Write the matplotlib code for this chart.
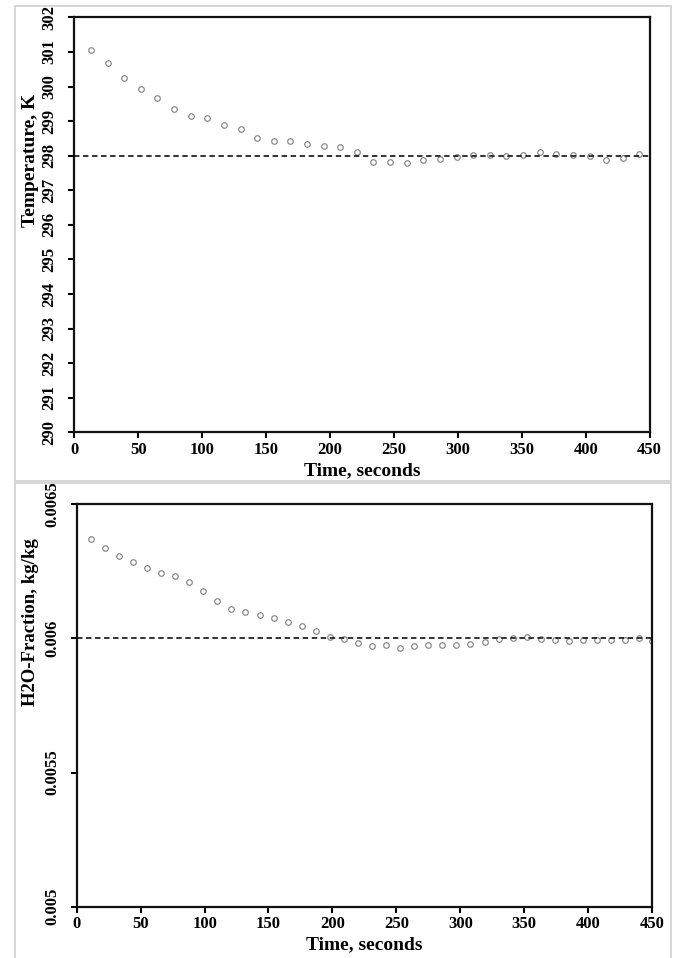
import matplotlib
matplotlib.use('Agg')
import matplotlib.pyplot as plt
from matplotlib.patches import Rectangle

plt.rcParams['font.family'] = ['Liberation Serif', 'DejaVu Serif']
plt.rcParams['font.weight'] = 'bold'

# 温度数据（上图）
time_t = [13, 26, 39, 52, 65, 78, 91, 104, 117, 130, 143, 156, 169, 182, 195, 208, 221,
          234, 247, 260, 273, 286, 299, 312, 325, 338, 351, 364, 377, 390, 403, 416, 429, 442]
temperature = [301.05, 300.68, 300.24, 299.92, 299.68, 299.35, 299.14, 299.10, 298.90, 298.78,
               298.51, 298.43, 298.43, 298.35, 298.29, 298.24, 298.10, 297.82, 297.83, 297.78,
               297.87, 297.91, 297.97, 298.01, 298.01, 297.99, 298.03, 298.10, 298.05, 298.02,
               297.99, 297.87, 297.93, 298.04]
temp_ref = 298.0
temp_ticks = [290, 291, 292, 293, 294, 295, 296, 297, 298, 299, 300, 301, 302]

# H2O 质量分数（下图）
time_h = [11, 22, 33, 44, 55, 66, 77, 88, 99, 110, 121, 132, 143, 154, 165, 176, 187, 198, 209,
          220, 231, 242, 253, 264, 275, 286, 297, 308, 319, 330, 341, 352, 363, 374, 385, 396,
          407, 418, 429, 440, 450]
h2o = [0.006369, 0.006337, 0.006307, 0.006284, 0.006264, 0.006245, 0.006231, 0.006209,
       0.006176, 0.006138, 0.006110, 0.006097, 0.006086, 0.006077, 0.006062, 0.006046,
       0.006028, 0.006006, 0.005997, 0.005982, 0.005971, 0.005977, 0.005966, 0.005972,
       0.005977, 0.005977, 0.005977, 0.005979, 0.005985, 0.005997, 0.006003, 0.006004,
       0.005997, 0.005994, 0.005991, 0.005994, 0.005993, 0.005993, 0.005995, 0.006000,
       0.005990]
h2o_ref = 0.006
h2o_ticks = [0.005, 0.0055, 0.006, 0.0065]
h2o_ticklabels = ['0.005', '0.0055', '0.006', '0.0065']

x_ticks = [0, 50, 100, 150, 200, 250, 300, 350, 400, 450]

fig = plt.figure(figsize=(6.79, 9.58), dpi=100)

# 两个面板的灰色边框
fig.patches.append(Rectangle((0.022, 0.498), 0.966, 0.4957, transform=fig.transFigure,
                             fill=False, edgecolor='#cfcfcf', linewidth=1.2))
fig.patches.append(Rectangle((0.022, -0.01), 0.966, 0.5058, transform=fig.transFigure,
                             fill=False, edgecolor='#cfcfcf', linewidth=1.2))

ax1 = fig.add_axes([0.1094, 0.5487, 0.8474, 0.4332])
ax2 = fig.add_axes([0.1130, 0.05355, 0.8473, 0.4200])


def style(ax):
    for s in ax.spines.values():
        s.set_linewidth(1.6)
        s.set_color('#111111')
    ax.tick_params(axis='both', direction='out', length=4, width=1.5, labelsize=12, pad=3)
    ax.tick_params(axis='y', labelrotation=90, pad=8)
    for lab in ax.get_yticklabels():
        lab.set_va('center')
    ax.set_xlim(0, 450)
    ax.set_xticks(x_ticks)
    ax.set_xlabel('Time, seconds', fontsize=14, fontweight='bold', labelpad=3)


ax1.plot(time_t, temperature, linestyle='none', marker='o', markersize=4,
         markerfacecolor='none', markeredgecolor='#8a8a8a', markeredgewidth=0.9, clip_on=False)
ax1.axhline(temp_ref, color='#222222', linestyle=(0, (3, 2)), linewidth=1.3)
ax1.set_ylim(290, 302)
ax1.set_yticks(temp_ticks)
ax1.set_ylabel('Temperature, K', fontsize=14, fontweight='bold')
style(ax1)
ax1.yaxis.set_label_coords(-0.062, 0.656)

ax2.plot(time_h, h2o, linestyle='none', marker='o', markersize=4,
         markerfacecolor='none', markeredgecolor='#8a8a8a', markeredgewidth=0.9)
ax2.axhline(h2o_ref, color='#222222', linestyle=(0, (3, 2)), linewidth=1.3)
ax2.set_ylim(0.005, 0.0065)
ax2.set_yticks(h2o_ticks)
ax2.set_yticklabels(h2o_ticklabels)
ax2.set_ylabel('H2O-Fraction, kg/kg', fontsize=13.5, fontweight='bold')
style(ax2)
ax2.yaxis.set_label_coords(-0.066, 0.707)

fig.savefig('out.png', dpi=100)
